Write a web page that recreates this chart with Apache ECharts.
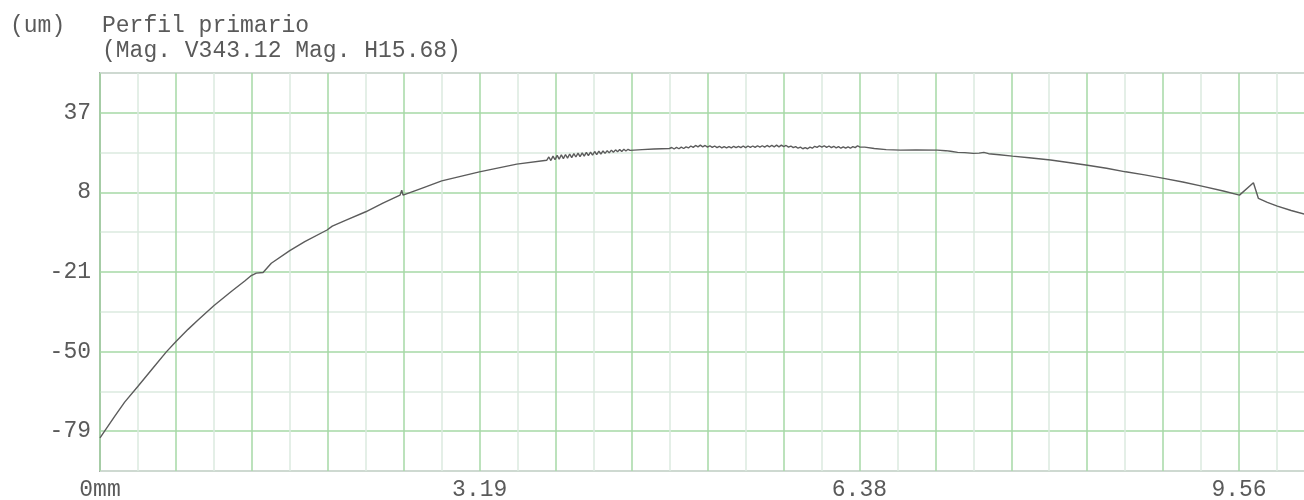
<!DOCTYPE html>
<html>
<head>
<meta charset="utf-8">
<script src="https://cdn.jsdelivr.net/npm/echarts@6/dist/echarts.min.js"></script>
<style>
html,body{margin:0;padding:0;background:#fff;}
#c{width:1304px;height:500px;}
</style>
</head>
<body>
<div id="c"></div>
<script>
// Profile distance (mm)
const distance = [
  0, 0.123, 0.207, 0.319, 0.445, 0.557, 0.636, 0.739, 0.823, 0.955, 1.102, 1.215,
  1.270, 1.312, 1.369, 1.438, 1.593, 1.719, 1.906, 1.950, 2.071, 2.231, 2.375,
  2.519, 2.533, 2.544, 2.700, 2.869, 3.185, 3.499,
  3.750, 3.768, 3.785, 3.803, 3.820, 3.838, 3.855, 3.873, 3.890, 3.908, 3.925, 3.943, 3.960, 3.978,
  3.995, 4.013, 4.030, 4.048, 4.065, 4.083, 4.100, 4.118, 4.135, 4.153, 4.170, 4.188, 4.205, 4.223,
  4.240, 4.258, 4.275, 4.293, 4.310, 4.328, 4.345, 4.363, 4.380, 4.398, 4.415, 4.433, 4.450,
  4.55, 4.65, 4.78,
  4.80, 4.82, 4.84, 4.86, 4.88, 4.90, 4.92, 4.94, 4.96, 4.98, 5.00, 5.02, 5.04, 5.06, 5.08, 5.10,
  5.12, 5.14, 5.16, 5.18, 5.20, 5.22, 5.24, 5.26, 5.28, 5.30, 5.32, 5.34, 5.36, 5.38, 5.40, 5.42,
  5.44, 5.46, 5.48, 5.50, 5.52, 5.54, 5.56, 5.58, 5.60, 5.62, 5.64, 5.66, 5.68, 5.70, 5.72, 5.74,
  5.76, 5.78, 5.80, 5.82, 5.84, 5.86, 5.88, 5.90, 5.92, 5.94, 5.96, 5.98, 6.00, 6.02, 6.04, 6.06,
  6.08, 6.10, 6.12, 6.14, 6.16, 6.18, 6.20, 6.22, 6.24, 6.26, 6.28, 6.30, 6.32, 6.34, 6.36, 6.38,
  6.42, 6.50, 6.60, 6.72, 6.85, 7.03, 7.10, 7.14, 7.20, 7.26, 7.33, 7.38, 7.42, 7.46, 7.55, 7.66,
  7.80, 7.98, 8.13, 8.29, 8.45, 8.61, 8.77, 8.93, 9.09, 9.25, 9.43, 9.566, 9.683, 9.725, 9.80,
  9.884, 10.00, 10.109, 10.2
];
// Profile height (um)
const height = [
  -81.4, -73.6, -68.4, -62.6, -56.0, -50.1, -46.4, -41.9, -38.5, -33.3, -28.1, -24.3,
  -22.3, -21.4, -21.2, -17.8, -13.2, -9.95, -5.7, -4.3, -2.0, 0.95, 4.1,
  7.0, 8.8, 7.0, 9.5, 12.2, 15.5, 18.3,
  19.7, 20.9, 19.6, 21.2, 19.9, 21.5, 20.1, 21.7, 20.3, 21.8, 20.5, 22.0, 20.7, 22.1,
  20.9, 22.3, 21.0, 22.4, 21.2, 22.6, 21.4, 22.7, 21.6, 22.9, 21.8, 23.0, 22.0, 23.1,
  22.2, 23.2, 22.4, 23.4, 22.6, 23.5, 22.8, 23.6, 22.9, 23.7, 23.1, 23.7, 23.3,
  23.6, 23.8, 24.0,
  24.35, 23.8, 24.4, 23.9, 24.5, 24.0, 24.6, 24.2, 24.9, 24.4, 25.1, 24.6, 25.2, 24.6, 25.1, 24.5,
  25.0, 24.4, 24.9, 24.3, 24.8, 24.2, 24.7, 24.2, 24.7, 24.2, 24.8, 24.3, 24.8, 24.3, 24.9, 24.3,
  24.9, 24.4, 24.9, 24.4, 25.0, 24.5, 25.0, 24.5, 25.1, 24.6, 25.1, 24.6, 25.2, 24.6, 25.2, 24.7,
  25.1, 24.5, 24.9, 24.3, 24.7, 24.1, 24.5, 23.9, 24.3, 23.9, 24.5, 24.1, 24.8, 24.4, 25.0, 24.5,
  25.0, 24.4, 24.9, 24.3, 24.8, 24.2, 24.7, 24.1, 24.6, 24.1, 24.6, 24.1, 24.7, 24.3, 25.0, 24.5,
  24.5, 24.0, 23.6, 23.4, 23.45, 23.4, 23.2, 23.0, 22.6, 22.5, 22.2, 22.3, 22.6, 22.1, 21.7, 21.2,
  20.6, 19.8, 18.9, 17.9, 16.8, 15.5, 14.4, 13.1, 11.8, 10.3, 8.5, 7.0, 11.5, 5.8, 4.4,
  3.0, 1.4, 0.1, -1.1
];
// Tick labels
const yTickValues = [-79, -50, -21, 8, 37];
const xTickLabels = ['0mm', '3.19', '6.38', '9.56'];
const unitLabel = '(um)';
const titleLines = ['Perfil primario', '(Mag. V343.12 Mag. H15.68)'];

const points = distance.map((d, i) => [d, height[i]]);

const FONT = '"Liberation Mono", "DejaVu Sans Mono", monospace';
const TEXT = '#5a5a5a';
const MAJOR = '#a6d8a6';
const MINOR = '#dbeadf';

const chart = echarts.init(document.getElementById('c'), null, {renderer: 'canvas'});
chart.setOption({
  backgroundColor: '#ffffff',
  animation: false,
  title: [
    {text: unitLabel, left: 5, top: 8, textStyle: {fontFamily: FONT, fontSize: 23, fontWeight: 'normal', color: TEXT, lineHeight: 25}},
    {text: titleLines.join('\n'), left: 97, top: 8, textStyle: {fontFamily: FONT, fontSize: 23, fontWeight: 'normal', color: TEXT, lineHeight: 25}}
  ],
  grid: {left: 100, top: 73, width: 1215, height: 398, show: true, borderColor: '#a8a8a8', borderWidth: 2,
         backgroundColor: '#ffffff', containLabel: false, outerBoundsMode: 'none'},
  xAxis: {
    type: 'value', min: 0, max: 10.2, interval: 0.31875,
    axisLine: {show: false}, axisTick: {show: false},
    splitLine: {show: true, lineStyle: {color: [MAJOR, MINOR], width: 1.5}},
    axisLabel: {
      show: true, interval: 0, hideOverlap: false, margin: 7,
      fontFamily: FONT, fontSize: 23, color: TEXT,
      formatter: function (v, i) {
        if (i % 10 === 0 && xTickLabels[i / 10] !== undefined) return xTickLabels[i / 10];
        return '';
      }
    }
  },
  yAxis: {
    type: 'value', min: -93.5, max: 51.5, interval: 14.5,
    axisLine: {show: false}, axisTick: {show: false},
    splitLine: {show: true, lineStyle: {color: [MINOR, MAJOR], width: 1.5}},
    axisLabel: {
      show: true, interval: 0, margin: 9,
      fontFamily: FONT, fontSize: 23, color: TEXT,
      formatter: function (v) {
        for (const t of yTickValues) { if (Math.abs(t - v) < 0.01) return String(t); }
        return '';
      }
    }
  },
  series: [{
    type: 'line', data: points, showSymbol: false, symbol: 'none', smooth: false,
    lineStyle: {color: '#5c5c5c', width: 1.4}, z: 5, clip: true
  }]
});
</script>
</body>
</html>
